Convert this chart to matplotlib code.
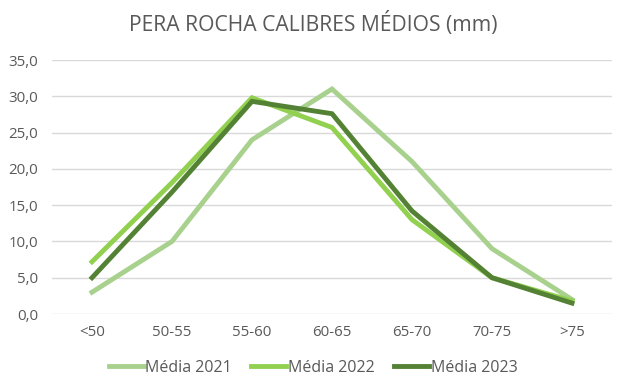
import numpy as np
import matplotlib.pyplot as plt

plt.rcParams['font.family'] = ['Open Sans', 'DejaVu Sans']

categorias = ['<50', '50-55', '55-60', '60-65', '65-70', '70-75', '>75']
media_2021 = [3.0, 10.0, 24.0, 31.0, 21.0, 9.0, 2.0]
media_2022 = [7.2, 18.1, 29.8, 25.7, 13.0, 5.0, 1.8]
media_2023 = [5.0, 16.8, 29.3, 27.6, 14.2, 5.0, 1.5]

series = [('Média 2021', media_2021, '#a9d18e'),
          ('Média 2022', media_2022, '#92d050'),
          ('Média 2023', media_2023, '#548235')]

cinza = '#595959'
fig = plt.figure(figsize=(6.26, 3.91), dpi=100)
ax = fig.add_axes([52/626, 1 - 314/391, 560/626, 254/391])

x = np.arange(len(categorias))
for nome, vals, cor in series:
    ax.plot(x, vals, color=cor, lw=3.5, label=nome, solid_joinstyle='miter')

ax.set_xlim(-0.5, len(categorias) - 0.5)
ax.set_ylim(0, 35)
ax.set_yticks(np.arange(0, 36, 5))
ax.set_yticklabels([f'{v:.1f}'.replace('.', ',') for v in np.arange(0, 36, 5)])
ax.set_xticks(x)
ax.set_xticklabels(categorias)
ax.grid(axis='y', color='#d9d9d9', lw=1)
ax.set_axisbelow(True)
for s in ax.spines.values():
    s.set_visible(False)
ax.tick_params(length=0, colors=cinza, labelsize=10.8)
ax.tick_params(axis='x', pad=8)
ax.tick_params(axis='y', pad=10)

fig.text(0.5, 1 - 24/391, 'PERA ROCHA CALIBRES MÉDIOS (mm)', ha='center', va='center',
         fontsize=15.2, color=cinza)

leg = fig.legend(loc='center', bbox_to_anchor=(0.5, 1 - 368/391), ncol=3, frameon=False,
                 fontsize=11.5, handlelength=2.2, handletextpad=0.1, columnspacing=1.2)
for t in leg.get_texts():
    t.set_color(cinza)

fig.savefig('out.png', dpi=100)
